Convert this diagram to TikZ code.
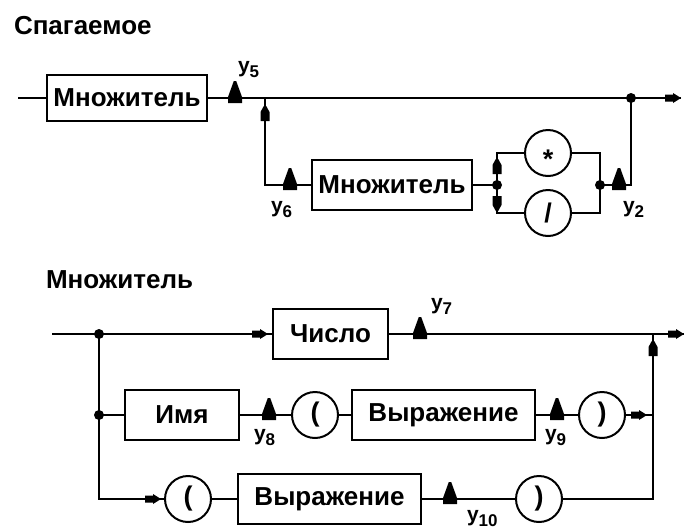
\documentclass[tikz,border=0pt]{standalone}
\usepackage{fontspec}
\setmainfont{Liberation Sans}
\newcommand\ylab[1]{y\raisebox{-5pt}{\fontsize{17}{17}\selectfont #1}}
\begin{document}
\begin{tikzpicture}[x=1pt,y=-1pt,line width=2pt,
  box/.style={draw,rectangle,inner sep=0pt,font=\fontsize{26}{30}\selectfont\bfseries},
  circ/.style={draw,circle,minimum size=46pt,inner sep=0pt,font=\fontsize{27}{30}\selectfont\bfseries},
  ttl/.style={anchor=north west,inner sep=0pt,font=\fontsize{26}{30}\selectfont\bfseries},
  lab/.style={anchor=north west,inner sep=0pt,font=\fontsize{21}{22}\selectfont\bfseries},
  dot/.style={circle,fill,inner sep=0pt,minimum size=10pt},
  upmk/.pic={\fill (-1.2,-17)--(1.2,-17)--(7,-1)--(7,5)--(-7,5)--(-7,-1)--cycle;},
  vmk/.pic={\fill (-1.2,-8)--(1.2,-8)--(4.5,-2)--(4.5,7)--(-4.5,7)--(-4.5,-2)--cycle;},
  rmk/.pic={\fill (0,0)--(-8,-5)--(-8,-3.5)--(-16,-3.5)--(-16,3.5)--(-8,3.5)--(-8,5)--cycle;},
]
\useasboundingbox[fill=white] (0,0) rectangle (685,531);

% ---------- Top diagram ----------
\node[ttl] (t1) at (13,15) {Спагаемое};
\coordinate (s0) at (18,98);
\node[box,minimum width=160pt,minimum height=46pt] (m1) at (127,98) {Множитель};
\coordinate (j1) at (265,98);
\coordinate (d1) at (631,98);
\coordinate (e1) at (681,98);
\node[box,minimum width=160pt,minimum height=50pt] (m2) at (392,185) {Множитель};
\coordinate (sp) at (497,185);
\node[circ] (ast) at (548,153) {\raisebox{-0.58em}[0pt][0pt]{*}};
\node[circ] (sl) at (548,213) {/};
\coordinate (mg) at (600,185);
\coordinate (c2) at (631,185);

\draw (s0) -- (m1.west);
\draw (m1.east) -- (e1);
\draw (j1) |- (m2.west);
\draw (m2.east) -- (sp);
\draw (sp) |- (ast.west);
\draw (sp) |- (sl.west);
\draw (ast.east) -| (mg);
\draw (sl.east) -| (mg);
\draw (mg) -- (c2) -- (d1);

\node[dot] (dsp) at (sp) {};
\node[dot] (dmg) at (mg) {};
\node[dot] (dd1) at (d1) {};

\pic at (235,98) {upmk};
\pic at (265,114) {vmk};
\pic at (290,185) {upmk};
\pic at (497,167) {vmk};
\pic[rotate=180] at (497,203) {vmk};
\pic at (619,185) {upmk};
\pic at (e1) {rmk};

\node[lab] (l5) at (237,60) {\ylab{5}};
\node[lab] (l6) at (270,200) {\ylab{6}};
\node[lab] (l2) at (622,200) {\ylab{2}};

% ---------- Bottom diagram ----------
\node[ttl] (t2) at (45,270) {Множитель};
\coordinate (b0) at (52,334);
\coordinate (bv1) at (99,334);
\coordinate (bv2) at (99,415);
\coordinate (bv3) at (99,499);
\node[box,minimum width=115pt,minimum height=50pt] (num) at (330.5,334) {Число};
\coordinate (be) at (684,334);
\coordinate (rv1) at (653,334);
\coordinate (rv2) at (653,415);
\coordinate (rv3) at (653,499);
\node[box,minimum width=114pt,minimum height=50pt] (nm) at (182,415) {Имя};
\node[circ] (lp1) at (315,415) {(};
\node[box,minimum width=183pt,minimum height=50pt] (ex1) at (443.5,415) {Выражение};
\node[circ] (rp1) at (602,415) {)};
\node[circ] (lp2) at (188,499) {(};
\node[box,minimum width=183pt,minimum height=50pt] (ex2) at (329.5,499) {Выражение};
\node[circ] (rp2) at (539,499) {)};

\draw (b0) -- (num.west);
\draw (num.east) -- (be);
\draw (bv1) -- (bv3) -- (lp2.west);
\draw (bv2) -- (nm.west);
\draw (nm.east) -- (lp1.west);
\draw (lp1.east) -- (ex1.west);
\draw (ex1.east) -- (rp1.west);
\draw (rp1.east) -- (rv2);
\draw (lp2.east) -- (ex2.west);
\draw (ex2.east) -- (rp2.west);
\draw (rp2.east) -- (rv3) -- (rv1);

\node[dot] (dbv1) at (bv1) {};
\node[dot] (dbv2) at (bv2) {};

\pic at (268,334) {rmk};
\pic at (420,334) {upmk};
\pic at (be) {rmk};
\pic at (653,349) {vmk};
\pic at (269,415) {upmk};
\pic at (557,415) {upmk};
\pic at (647,415) {rmk};
\pic at (161,499) {rmk};
\pic at (450,499) {upmk};

\node[lab] (l7) at (430,297) {\ylab{7}};
\node[lab] (l8) at (253,428) {\ylab{8}};
\node[lab] (l9) at (544,428) {\ylab{9}};
\node[lab] (l10) at (466,509) {\ylab{10}};
\end{tikzpicture}
\end{document}
